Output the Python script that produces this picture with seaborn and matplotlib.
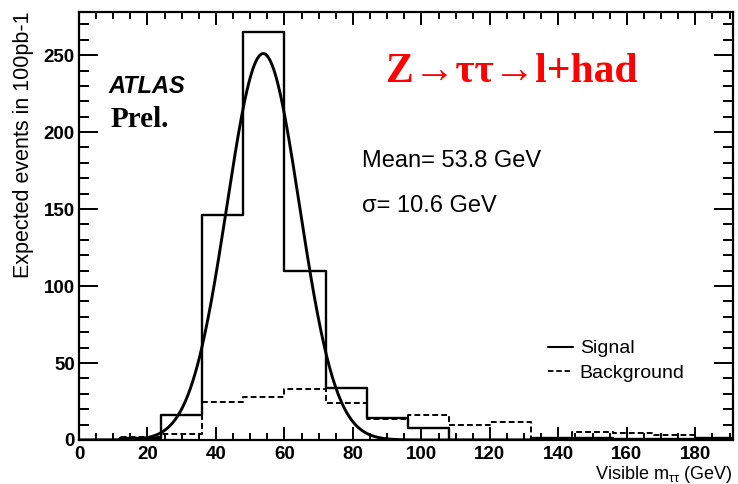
import numpy as np
import pandas as pd
import matplotlib
matplotlib.use("Agg")
import matplotlib.pyplot as plt
import seaborn as sns
from matplotlib.lines import Line2D

# ---------------- data ----------------
bin_edges = list(range(0, 193, 12))
signal_counts = [0, 1, 16, 146, 265, 110, 34, 14, 8, 0, 0, 1, 1, 0.5, 0.5, 1]
background_counts = [0, 2, 4, 25, 28, 33, 24, 13.5, 16, 9.5, 12, 1.5, 5.5, 4.5, 3, 1.5]
fit_mean = 53.8
fit_sigma = 10.6
fit_peak = 251
x_ticks = [0, 20, 40, 60, 80, 100, 120, 140, 160, 180]
y_ticks = [0, 50, 100, 150, 200, 250]

# ---------------- style ----------------
sns.set_theme(style="ticks")
plt.rcParams["font.family"] = ["Liberation Sans", "DejaVu Sans"]
plt.rcParams["mathtext.fontset"] = "custom"
plt.rcParams["mathtext.rm"] = "Liberation Sans"
plt.rcParams["mathtext.it"] = "Liberation Sans"
for key in ["text.color", "axes.labelcolor", "xtick.color", "ytick.color", "axes.edgecolor"]:
    plt.rcParams[key] = "black"

fig = plt.figure(figsize=(7.38, 4.84), dpi=100)
ax = fig.add_axes([79 / 738, 44 / 484, (733 - 79) / 738, (440 - 12) / 484])

centers = [(a + b) / 2 for a, b in zip(bin_edges[:-1], bin_edges[1:])]
df = pd.DataFrame({"x": centers, "sig": signal_counts, "bkg": background_counts})

dash = (0, (3.0, 1.6))
sns.histplot(data=df, x="x", weights="sig", bins=bin_edges, element="step",
             fill=False, color="black", linewidth=1.7, ax=ax)
sns.histplot(data=df, x="x", weights="bkg", bins=bin_edges, element="step",
             fill=False, color="black", linewidth=1.4, linestyle=dash, ax=ax)

xs = np.linspace(0, 192, 800)
curve = pd.DataFrame({"x": xs, "y": fit_peak * np.exp(-0.5 * ((xs - fit_mean) / fit_sigma) ** 2)})
sns.lineplot(data=curve, x="x", y="y", color="black", linewidth=2.1, ax=ax)

ax.set_xlim(0, 191)
ax.set_ylim(0, 278)

ax.set_xticks(x_ticks)
ax.set_yticks(y_ticks)
ax.set_xticks(np.arange(0, 191, 5), minor=True)
ax.set_yticks(np.arange(0, 278, 10), minor=True)
ax.tick_params(axis="both", which="both", direction="in", top=True, right=True,
               width=1.4, colors="black")
ax.tick_params(axis="x", which="major", length=9.4, pad=4)
ax.tick_params(axis="x", which="minor", length=4.7)
ax.tick_params(axis="y", which="major", length=14, pad=3)
ax.tick_params(axis="y", which="minor", length=7)
for lab in ax.get_xticklabels() + ax.get_yticklabels():
    lab.set_fontsize(13.5)
    lab.set_fontweight("bold")
for s in ax.spines.values():
    s.set_linewidth(1.6)
    s.set_color("black")

ax.set_xlabel(r"Visible m$_{\tau\tau}$ (GeV)", loc="right", fontsize=13, labelpad=1)
ax.set_ylabel("Expected events in 100pb-1", loc="top", fontsize=15.5, labelpad=7)

# legend
handles = [Line2D([], [], color="black", linewidth=1.5),
           Line2D([], [], color="black", linewidth=1.3, linestyle=dash)]
ax.legend(handles, ["Signal", "Background"], loc="upper left",
          bbox_to_anchor=(0.69, 0.275), frameon=False, fontsize=14,
          handlelength=1.3, handletextpad=0.35, labelspacing=0.35)

# annotations
ax.text(0.47, 0.86, "Z→ττ→l+had", transform=ax.transAxes, color="#ff0000",
        fontsize=30, fontweight="bold", family=["Liberation Serif", "DejaVu Serif"],
        ha="left", va="center")
ax.text(0.045, 0.825, "ATLAS", transform=ax.transAxes, fontsize=17,
        fontweight="bold", style="italic", ha="left", va="center")
ax.text(0.048, 0.748, "Prel.", transform=ax.transAxes, fontsize=21,
        fontweight="bold", family=["Liberation Serif"], ha="left", va="center")
ax.text(0.432, 0.652, "Mean= 53.8 GeV", transform=ax.transAxes, fontsize=17,
        ha="left", va="center")
ax.text(0.432, 0.547, "σ= 10.6 GeV", transform=ax.transAxes, fontsize=17,
        ha="left", va="center")

fig.savefig("out.png", dpi=100)
